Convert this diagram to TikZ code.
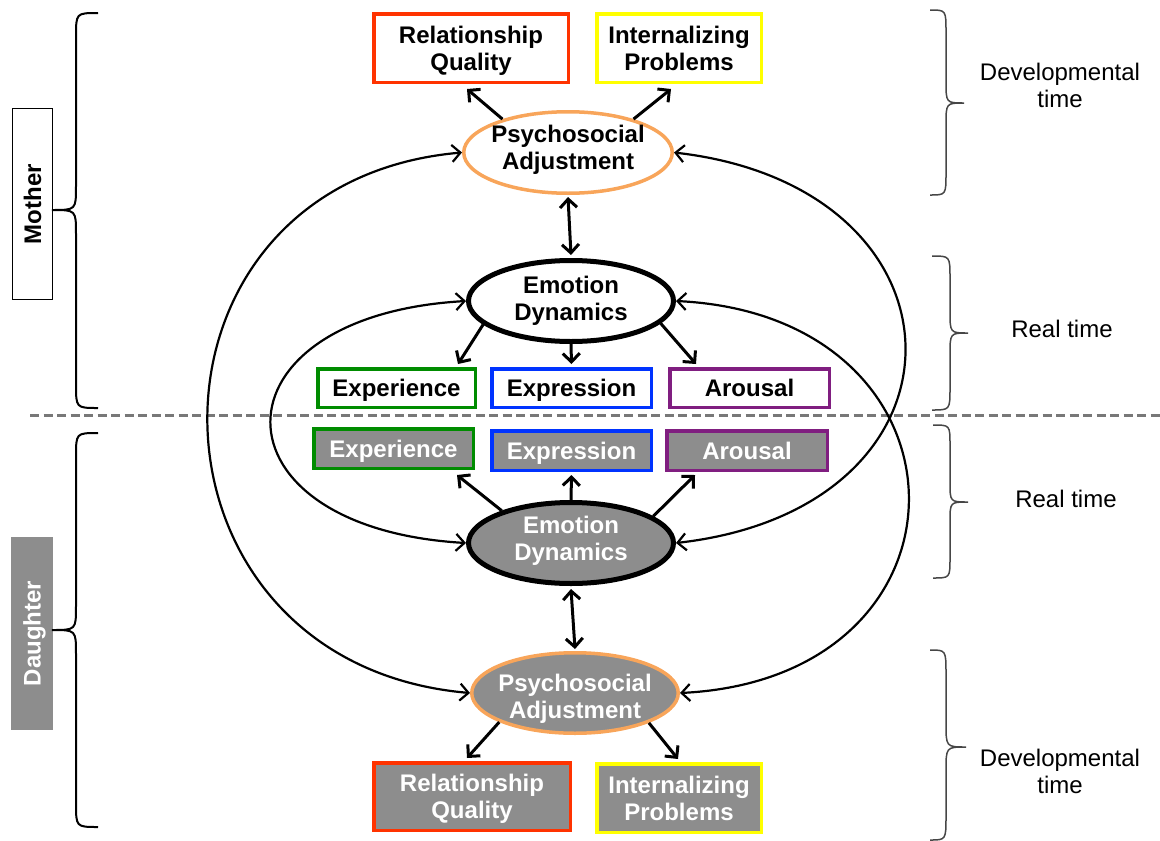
\documentclass[tikz,border=0pt]{standalone}
\usepackage{fontspec}
\setmainfont{Liberation Sans}
\usetikzlibrary{arrows.meta,shapes.geometric}
\definecolor{cred}{RGB}{255,51,0}
\definecolor{cyel}{RGB}{255,255,0}
\definecolor{corg}{RGB}{248,165,90}
\definecolor{cgrn}{RGB}{0,140,0}
\definecolor{cblu}{RGB}{0,51,255}
\definecolor{cpur}{RGB}{128,30,128}
\definecolor{cgry}{RGB}{141,141,141}
\definecolor{cdash}{RGB}{120,120,120}
\definecolor{cbrace}{RGB}{70,70,70}
\newcommand{\mybrace}[8]{\draw[#1] (#2,#5) .. controls (#3,#5) .. (#3,{#5+#8}) -- (#3,{#6-#8}) .. controls (#3,#6) .. (#4,#6) .. controls (#3,#6) .. (#3,{#6+#8}) -- (#3,{#7-#8}) .. controls (#3,#7) .. (#2,#7);}
\begin{document}
\begin{tikzpicture}[x=1pt,y=-1pt,
  lbl/.style={font=\fontsize{24}{27}\selectfont\bfseries, align=center, inner sep=0pt, text depth=0pt},
  bx/.style={lbl, draw, rectangle, line width=3.5pt},
  mbx/.style={bx, fill=white, text=black},
  dbx/.style={bx, fill=cgry, text=white},
  ell/.style={ellipse, inner sep=0pt},
  tip/.tip={Straight Barb[length=8.5pt,width=17pt]},
  arr/.style={line width=3pt, -tip},
  darr/.style={line width=3pt, tip-tip},
  carr/.style={line width=2.2pt, tip-tip},
  lbrace/.style={line width=2pt, black},
  rbrace/.style={line width=1.5pt, cbrace},
  timelbl/.style={font=\fontsize{24}{27}\selectfont, align=center, inner sep=0pt}
]
\useasboundingbox (0,0) rectangle (1160,841);

% separator
\draw[cdash, line width=3pt, dash pattern=on 9pt off 4.5pt] (30,415) -- (1160,415);

% side labels
\node[lbl, draw=black, line width=1.5pt, fill=white, rotate=90, minimum width=191pt, minimum height=40pt] (mother) at (32.5,204) {Mother};
\node[lbl, fill=cgry, text=white, rotate=90, minimum width=193pt, minimum height=42pt] (daughter) at (32,633.5) {Daughter};

% braces
\mybrace{lbrace}{98}{76}{52}{13}{210}{408}{24}
\mybrace{lbrace}{98}{76}{52}{433}{630}{827}{24}
\mybrace{rbrace}{930}{946}{964}{10}{103}{195}{22}
\mybrace{rbrace}{932}{950}{968}{256}{333}{410}{22}
\mybrace{rbrace}{933}{950}{968}{425}{502}{578}{20}
\mybrace{rbrace}{930}{946}{966}{650}{747}{840}{24}

\node[timelbl] (dt1) at (1060,85) {Developmental\\time};
\node[timelbl] (rt1) at (1062,329) {Real time};
\node[timelbl] (rt2) at (1066,499) {Real time};
\node[timelbl] (dt2) at (1060,771) {Developmental\\time};

% mother nodes
\node[mbx, draw=cred, minimum width=194.5pt, minimum height=68.5pt] (rqm) at (471,48) {Relationship\\Quality};
\node[mbx, draw=cyel, minimum width=164.5pt, minimum height=68.5pt] (ipm) at (679,48) {Internalizing\\Problems};
\node[ell, draw=corg, line width=3.5pt, fill=white, minimum width=208.5pt, minimum height=81.5pt,
  label={[lbl, yshift=5pt]center:Psychosocial\\Adjustment}] (pam) at (568,152.5) {};
\node[ell, draw=black, line width=5pt, fill=white, minimum width=205pt, minimum height=81pt,
  label={[lbl, yshift=3pt]center:Emotion\\Dynamics}] (edm) at (571,301) {};
\node[mbx, draw=cgrn, minimum width=157.5pt, minimum height=38.5pt] (xpm) at (396.5,388) {Experience};
\node[mbx, draw=cblu, minimum width=159.5pt, minimum height=38.5pt] (exm) at (571.5,388) {Expression};
\node[mbx, draw=cpur, minimum width=159.5pt, minimum height=38.5pt] (arm) at (749.5,388) {Arousal};

% daughter nodes
\node[dbx, draw=cgrn, minimum width=159.5pt, minimum height=39.5pt] (xpd) at (393.5,448.5) {Experience};
\node[dbx, draw=cblu, minimum width=159.5pt, minimum height=39.5pt] (exd) at (571.5,450.5) {Expression};
\node[dbx, draw=cpur, minimum width=160.5pt, minimum height=39.5pt] (ard) at (747,450.5) {Arousal};
\node[ell, draw=black, line width=5pt, fill=cgry, minimum width=205pt, minimum height=81pt,
  label={[lbl, text=white, yshift=5pt]center:Emotion\\Dynamics}] (edd) at (571,543) {};
\node[ell, draw=corg, line width=3.5pt, fill=cgry, minimum width=206.5pt, minimum height=80.5pt,
  label={[lbl, text=white, yshift=-3pt]center:Psychosocial\\Adjustment}] (pad) at (575,693) {};
\node[dbx, draw=cred, minimum width=196.5pt, minimum height=67.5pt] (rqd) at (472,796.5) {Relationship\\Quality};
\node[dbx, draw=cyel, minimum width=164.5pt, minimum height=68.5pt] (ipd) at (679,798) {Internalizing\\Problems};

% mother arrows
\draw[arr] (pam.153) -- ([xshift=-4pt,yshift=-5pt]rqm.south);
\draw[arr] (pam.27) -- ([xshift=-8pt,yshift=-5pt]ipm.south);
\draw[darr] ([yshift=-2pt]pam.south) -- ([yshift=3pt]edm.north);
\draw[arr] (edm.195) -- ([xshift=-19pt,yshift=3pt]xpm.north east);
\draw[arr] (edm.south) -- ([yshift=3pt]exm.north);
\draw[arr] (edm.346) -- ([xshift=28pt,yshift=3pt]arm.north west);

% daughter arrows
\draw[arr] (edd.155) -- ([xshift=-18pt,yshift=-5pt]xpd.south east);
\draw[arr] (edd.north) -- ([yshift=-3pt]exd.south);
\draw[arr] (edd.18) -- ([xshift=30pt,yshift=-3pt]ard.south west);
\draw[darr] ([yshift=-3pt]edd.south) -- ([yshift=2pt]pad.north);
\draw[arr] (pad.201) -- ([xshift=-5pt,yshift=3pt]rqd.north);
\draw[arr] (pad.338) -- ([xshift=-1pt,yshift=3pt]ipd.north);

% cross connectors
\draw[carr] (pam.west) .. controls +(-343,30) and +(-345,-30) .. (pad.west);
\draw[carr] (edm.west) .. controls +(-260,15) and +(-260,-15) .. (edd.west);
\draw[carr] (pam.east) .. controls +(305,35) and +(308,-35) .. (edd.east);
\draw[carr] (edm.east) .. controls +(307,15) and +(307,-15) .. (pad.east);
\end{tikzpicture}
\end{document}
